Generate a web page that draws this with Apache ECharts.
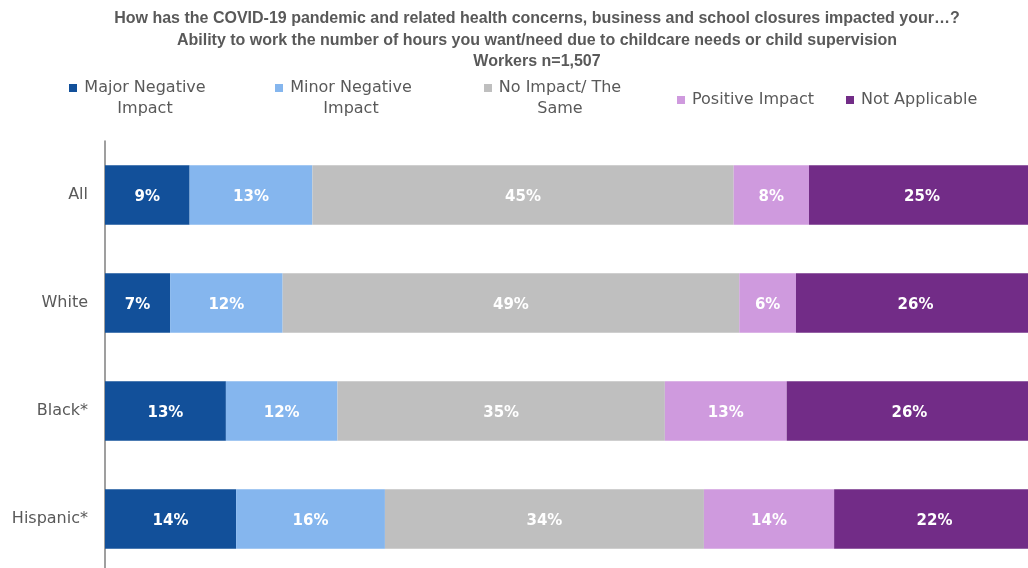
<!DOCTYPE html>
<html>
<head>
<meta charset="utf-8">
<script src="https://cdn.jsdelivr.net/npm/echarts@6/dist/echarts.min.js"></script>
<style>
  html, body { margin: 0; padding: 0; background: #fff; }
  #chart { width: 1028px; height: 568px; }
</style>
</head>
<body>
<div id="chart"></div>
<script>
// groups, top to bottom
var groups = ['All', 'White', 'Black*', 'Hispanic*']

// share of workers per response (%)
var majorNegative = [9.1, 7.0, 13.0, 14.1]
var minorNegative = [13.2, 12.1, 12.0, 16.0]
var noImpact = [45.3, 49.1, 35.2, 34.3]
var positiveImpact = [8.1, 6.1, 13.1, 14.0]
var notApplicable = [24.6, 25.7, 26.4, 21.6]

var seriesNames = ['Major Negative Impact', 'Minor Negative Impact', 'No Impact/ The Same', 'Positive Impact', 'Not Applicable']
var legendLines = ['Major Negative\nImpact', 'Minor Negative\nImpact', 'No Impact/ The\nSame', 'Positive Impact', 'Not Applicable']
var colors = ['#12509a', '#85b6ee', '#bfbfbf', '#cf9ade', '#722c87']
var allValues = [majorNegative, minorNegative, noImpact, positiveImpact, notApplicable]

var font = 'DejaVu Sans'
var chart = echarts.init(document.getElementById('chart'))

// one legend per entry so each can sit where the original puts it
var legendLeft = [64, 270, 479, 672, 841]
var legendTop = [75, 75, 75, 87, 87]
var legends = seriesNames.map(function (name, i) {
  var twoLines = legendLines[i].indexOf('\n') >= 0
  return {
    data: [name],
    left: legendLeft[i],
    top: legendTop[i],
    icon: 'rect',
    itemWidth: 8,
    itemHeight: 8,
    selectedMode: false,
    formatter: function () {
      return '{t|' + legendLines[i] + '}'
    },
    textStyle: {
      padding: twoLines ? [21, 0, 0, 2] : [0, 0, 0, 2],
      rich: {
        t: {
          fontFamily: font,
          fontSize: 16,
          color: '#595959',
          lineHeight: 21,
          width: twoLines ? 122 : null,
          align: 'center'
        }
      }
    }
  }
})

var option = {
  backgroundColor: '#fff',
  animation: false,
  color: colors,
  title: {
    text: 'How has the COVID-19 pandemic and related health concerns, business and school closures impacted your…?\nAbility to work the number of hours you want/need due to childcare needs or child supervision\nWorkers n=1,507',
    left: 532,
    top: 3,
    textAlign: 'center',
    textStyle: {
      fontFamily: 'Liberation Sans',
      fontWeight: 'bold',
      fontSize: 16,
      lineHeight: 21.5,
      color: '#595959'
    }
  },
  legend: legends,
  grid: { left: 105, top: 141, width: 930, height: 432, outerBoundsMode: 'none' },
  xAxis: {
    type: 'value',
    min: 0,
    max: 100,
    show: false
  },
  yAxis: {
    type: 'category',
    data: groups,
    inverse: true,
    axisLine: { show: true, lineStyle: { color: '#7f7f7f', width: 1.5 } },
    axisTick: { show: false },
    axisLabel: {
      margin: 17,
      padding: [4, 0, 0, 0],
      fontFamily: font,
      fontSize: 16,
      color: '#595959'
    }
  },
  series: allValues.map(function (vals, i) {
    return {
      name: seriesNames[i],
      type: 'bar',
      stack: 'total',
      barWidth: '55%',
      data: vals,
      itemStyle: { color: colors[i] },
      label: {
        show: true,
        position: 'inside',
        offset: [0, 2],
        formatter: function (p) { return Math.round(p.value) + '%' },
        color: '#fff',
        fontFamily: font,
        fontWeight: 'bold',
        fontSize: 15
      }
    }
  })
}

option && chart.setOption(option)
</script>
</body>
</html>
